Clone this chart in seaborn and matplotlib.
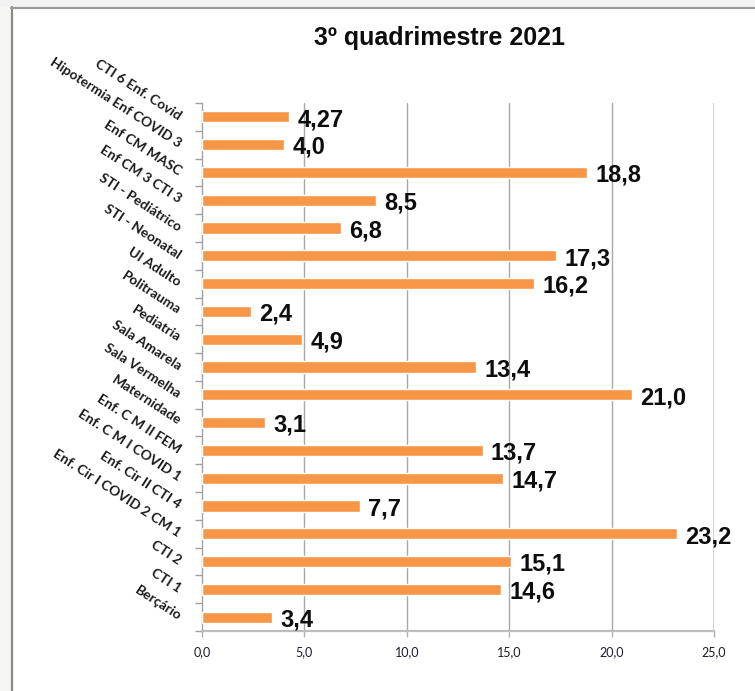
import matplotlib
matplotlib.use("Agg")
import matplotlib.pyplot as plt
from matplotlib.patches import Rectangle
from matplotlib.lines import Line2D
import seaborn as sns
import pandas as pd

units = [
    "CTI 6 Enf. Covid", "Hipotermia Enf COVID 3", "Enf CM MASC", "Enf CM 3 CTI 3",
    "STI - Pediátrico", "STI - Neonatal", "UI Adulto", "Politrauma", "Pediatria",
    "Sala Amarela", "Sala Vermelha", "Maternidade", "Enf. C M II FEM",
    "Enf. C M I COVID 1", "Enf. Cir II CTI 4", "Enf. Cir I COVID 2 CM 1",
    "CTI 2", "CTI 1", "Berçário",
]
rates = [4.27, 4.0, 18.8, 8.5, 6.8, 17.3, 16.2, 2.4, 4.9, 13.4, 21.0, 3.1,
         13.7, 14.7, 7.7, 23.2, 15.1, 14.6, 3.4]
rate_labels = ["4,27", "4,0", "18,8", "8,5", "6,8", "17,3", "16,2", "2,4", "4,9",
               "13,4", "21,0", "3,1", "13,7", "14,7", "7,7", "23,2", "15,1",
               "14,6", "3,4"]
x_ticks = [0, 5, 10, 15, 20, 25]
x_tick_labels = ["0,0", "5,0", "10,0", "15,0", "20,0", "25,0"]
title = "3º quadrimestre 2021"

sns.set_theme(style="white")
narrow = ["Liberation Sans Narrow", "Liberation Sans", "DejaVu Sans"]

W, H = 755, 691
fig = plt.figure(figsize=(W / 100, H / 100), dpi=100)
fig.patch.set_facecolor("white")

# window-like frame around the sheet
fig.patches.append(Rectangle((0, 0), 11 / W, 1, transform=fig.transFigure,
                             facecolor="#f6f6f4", edgecolor="none", zorder=0))
fig.patches.append(Rectangle((0, 1 - 7 / H), 1, 7 / H, transform=fig.transFigure,
                             facecolor="#f2f2f2", edgecolor="none", zorder=0))
fig.lines.append(Line2D([11.5 / W, 11.5 / W], [0, 1 - 7 / H], transform=fig.transFigure,
                        color="#8a8a8a", lw=1.6))
fig.lines.append(Line2D([11 / W, 1], [1 - 7.5 / H, 1 - 7.5 / H], transform=fig.transFigure,
                        color="#9a9a9a", lw=1.6))

left, right, top, bottom = 202, 714, 103, 631
ax = fig.add_axes([left / W, 1 - bottom / H, (right - left) / W, (bottom - top) / H])

df = pd.DataFrame({"unit": units, "rate": rates})
sns.barplot(data=df, x="rate", y="unit", orient="h", color="#f79646",
            saturation=1, width=0.4, ax=ax, zorder=3)

ax.set_xlim(0, 25)
ax.set_ylim(len(units) - 0.5, -0.5)
ax.set_xlabel("")
ax.set_ylabel("")

# vertical gridlines
for t in x_ticks[1:]:
    ax.axvline(t, color="#c4c4c4" if t == 25 else "#a8a8a8",
               lw=1.8 if t == 25 else 1.0, zorder=1)

ax.set_xticks(x_ticks)
ax.set_xticklabels(x_tick_labels, fontsize=9, color="#1c1c2a", family=["Lato", "DejaVu Sans"])
ax.tick_params(axis="x", bottom=True, length=4, width=1, color="#b0b0b0", pad=7)

ax.set_yticks(range(len(units)))
ax.set_yticklabels(units, rotation=-33, ha="right", va="center",
                   rotation_mode="anchor", fontsize=10, fontweight="bold",
                   color="#1a1a1a", family=["Lato", "DejaVu Sans"])
ax.tick_params(axis="y", which="major", left=False, length=0, pad=16)
ax.set_yticks([i - 0.5 for i in range(len(units) + 1)], minor=True)
ax.tick_params(axis="y", which="minor", left=True, length=5, width=1, color="#a0a0a0")

for s in ["top", "right"]:
    ax.spines[s].set_visible(False)
ax.spines["left"].set_color("#a0a0a0")
ax.spines["left"].set_linewidth(1.0)
ax.spines["bottom"].set_color("#bdbdbd")
ax.spines["bottom"].set_linewidth(1.6)

for i, (v, lab) in enumerate(zip(rates, rate_labels)):
    ax.annotate(lab, xy=(v, i), xytext=(6, -2), textcoords="offset points",
                ha="left", va="center", fontsize=17, fontweight="bold",
                color="#0d0d0d", family=narrow, zorder=4)

fig.text(440 / W, 1 - 38 / H, title, ha="center", va="center",
         fontsize=18, fontweight="bold", color="#0d0d0d", family=narrow)

fig.savefig("out.png", dpi=100)
